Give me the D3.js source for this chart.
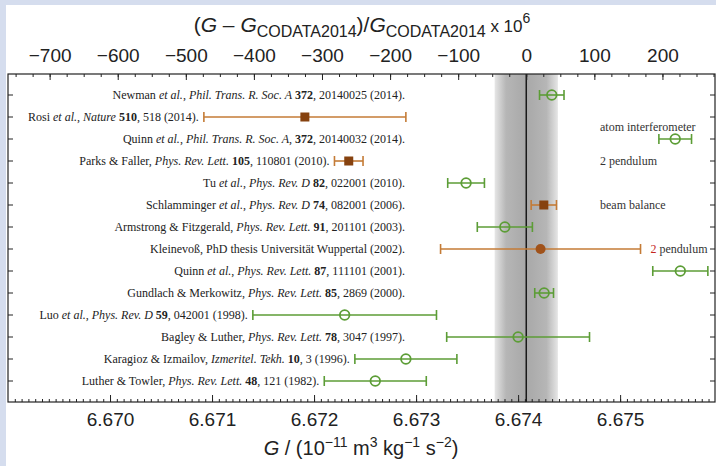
<!DOCTYPE html>
<html>
<head>
<meta charset="utf-8">
<script src="https://cdn.jsdelivr.net/npm/d3@7"></script>
<style>
  body { margin: 0; background: #d5ddee; }
  svg { display: block; }
</style>
</head>
<body>
<svg id="chart" width="716" height="466"></svg>
<script>

// CODATA 2014 recommended value and its standard uncertainty
var G_CODATA = 6.67408;
var G_CODATA_UNC = 0.00031;

// References, top to bottom (*italic*, **bold**)
var refs = [
    "Newman *et al.*, *Phil. Trans. R. Soc. A* **372**, 20140025 (2014).",
    "Rosi *et al.*, *Nature* **510**, 518 (2014).",
    "Quinn *et al.*, *Phil. Trans. R. Soc. A*, **372**, 20140032 (2014).",
    "Parks & Faller, *Phys. Rev. Lett.* **105**, 110801 (2010).",
    "Tu *et al.*, *Phys. Rev. D* **82**, 022001 (2010).",
    "Schlamminger *et al.*, *Phys. Rev. D* **74**, 082001 (2006).",
    "Armstrong & Fitzgerald, *Phys. Rev. Lett.* **91**, 201101 (2003).",
    "Kleinevoß, PhD thesis Universität Wuppertal (2002).",
    "Quinn *et al.*, *Phys. Rev. Lett.* **87**, 111101 (2001).",
    "Gundlach & Merkowitz, *Phys. Rev. Lett.* **85**, 2869 (2000).",
    "Luo *et al.*, *Phys. Rev. D* **59**, 042001 (1998).",
    "Bagley & Luther, *Phys. Rev. Lett.* **78**, 3047 (1997).",
    "Karagioz & Izmailov, *Izmeritel. Tekh.* **10**, 3 (1996).",
    "Luther & Towler, *Phys. Rev. Lett.* **48**, 121 (1982)."
];

// measured G (10^-11 m^3 kg^-1 s^-2) and its uncertainty
var gValues = [6.67433, 6.67191, 6.67554, 6.67234, 6.67349, 6.674252, 6.67387,
               6.67422, 6.67559, 6.674255, 6.6723, 6.6740, 6.6729, 6.6726];
var gErrors = [0.00012, 0.00099, 0.00016, 0.00014, 0.00018, 0.000124, 0.00027,
               0.00098, 0.00027, 0.000092, 0.0009, 0.0007, 0.0005, 0.0005];

// marker type per row
var markers = ["open", "square", "open", "square", "open", "square", "open",
               "dot", "open", "open", "open", "open", "open", "open"];

// method notes on the right ({...} = red)
var notes = ["", "atom interferometer", "", "2 pendulum", "", "beam balance", "",
             "{2} pendulum", "", "", "", "", "", ""];

// tick labels
var gTicks = [6.670, 6.671, 6.672, 6.673, 6.674, 6.675];
var ppmTicks = [-700, -600, -500, -400, -300, -200, -100, 0, 100, 200];


var svgWidth = 716;
var svgHeight = 466;
var frame = { left: 8, right: 715, top: 74, bottom: 402 };

var green = "#5c9d36";
var brownBar = "#c47b36";
var brownMark = "#86420f";
var serif = "'Liberation Serif', 'Times New Roman', serif";
var sans = "'Liberation Sans', Arial, sans-serif";

var svg = d3.select("#chart");

// white page on the blue background
svg.append("rect")
    .attr("x", 6).attr("y", 5)
    .attr("width", svgWidth - 6).attr("height", svgHeight - 5)
    .attr("fill", "#ffffff");

// scales
var x = d3.scaleLinear()
    .domain([6.669, 6.67593])
    .range([frame.left, frame.right]);

var xPpm = d3.scaleLinear()
    .domain(x.domain().map(function (g) { return (g / G_CODATA - 1) * 1e6; }))
    .range(x.range());

var y = d3.scaleBand()
    .domain(d3.range(refs.length))
    .range([84, 392]);

function rowY(i) { return y(i) + y.bandwidth() / 2; }

// gray band for the CODATA uncertainty
var grad = svg.append("defs").append("linearGradient")
    .attr("id", "band").attr("x1", "0").attr("x2", "1").attr("y1", "0").attr("y2", "0");
[[0, "#e6e6e6"], [0.18, "#b6b6b6"], [0.5, "#a8a8a8"], [0.82, "#b6b6b6"], [1, "#e6e6e6"]]
    .forEach(function (s) {
        grad.append("stop").attr("offset", s[0]).attr("stop-color", s[1]);
    });

svg.append("rect")
    .attr("x", x(G_CODATA - G_CODATA_UNC))
    .attr("y", frame.top)
    .attr("width", x(G_CODATA + G_CODATA_UNC) - x(G_CODATA - G_CODATA_UNC))
    .attr("height", frame.bottom - frame.top)
    .attr("fill", "url(#band)");

svg.append("line")
    .attr("x1", x(G_CODATA)).attr("x2", x(G_CODATA))
    .attr("y1", frame.top).attr("y2", frame.bottom)
    .attr("stroke", "#1a1a1a").attr("stroke-width", 1.5);

// rows
var rows = refs.map(function (r, i) {
    return { i: i, ref: r, g: gValues[i], e: gErrors[i], kind: markers[i], note: notes[i] };
});

function colorOf(d) { return d.kind === "open" ? green : brownBar; }

var bars = svg.selectAll("g.row")
    .data(rows)
    .enter().append("g")
    .attr("class", "row");

bars.append("line")
    .attr("x1", function (d) { return x(d.g - d.e); })
    .attr("x2", function (d) { return x(d.g + d.e); })
    .attr("y1", function (d) { return rowY(d.i); })
    .attr("y2", function (d) { return rowY(d.i); })
    .attr("stroke", colorOf).attr("stroke-width", 1.6);

[-1, 1].forEach(function (s) {
    bars.append("line")
        .attr("x1", function (d) { return x(d.g + s * d.e); })
        .attr("x2", function (d) { return x(d.g + s * d.e); })
        .attr("y1", function (d) { return rowY(d.i) - 5; })
        .attr("y2", function (d) { return rowY(d.i) + 5; })
        .attr("stroke", colorOf).attr("stroke-width", 1.6);
});

bars.filter(function (d) { return d.kind === "open"; })
    .append("circle")
    .attr("cx", function (d) { return x(d.g); })
    .attr("cy", function (d) { return rowY(d.i); })
    .attr("r", 4.8)
    .attr("fill", "none")
    .attr("stroke", green).attr("stroke-width", 1.8);

bars.filter(function (d) { return d.kind === "square"; })
    .append("rect")
    .attr("x", function (d) { return x(d.g) - 4.5; })
    .attr("y", function (d) { return rowY(d.i) - 4.5; })
    .attr("width", 9).attr("height", 9)
    .attr("fill", brownMark);

bars.filter(function (d) { return d.kind === "dot"; })
    .append("circle")
    .attr("cx", function (d) { return x(d.g); })
    .attr("cy", function (d) { return rowY(d.i); })
    .attr("r", 5)
    .attr("fill", "#a0521a");

// rich text helper: *italic*, **bold**, {red}
function richText(sel, str) {
    str.split(/(\*\*[^*]+\*\*|\*[^*]+\*|\{[^}]+\})/).forEach(function (part) {
        if (!part) return;
        var t = sel.append("tspan");
        if (part.indexOf("**") === 0) {
            t.text(part.slice(2, -2)).attr("font-weight", "bold");
        } else if (part[0] === "*") {
            t.text(part.slice(1, -1)).attr("font-style", "italic");
        } else if (part[0] === "{") {
            t.text(part.slice(1, -1)).attr("fill", "#c4261e");
        } else {
            t.text(part);
        }
    });
}

// reference labels, right aligned before the bar
bars.append("text")
    .attr("x", function (d) { return Math.min(405, x(d.g - d.e) - 5); })
    .attr("y", function (d) { return rowY(d.i); })
    .attr("dy", "0.35em")
    .attr("text-anchor", "end")
    .attr("font-family", serif)
    .attr("font-size", 12)
    .attr("fill", "#222")
    .each(function (d) { richText(d3.select(this), d.ref); });

// notes on the right
bars.filter(function (d) { return d.note; })
    .append("text")
    .attr("x", function (d) { return Math.max(600, x(d.g + d.e) + 10); })
    .attr("y", function (d) { return rowY(d.i) + (d.i === 1 ? 10 : 0); })
    .attr("dy", "0.35em")
    .attr("font-family", serif)
    .attr("font-size", 12)
    .attr("fill", "#333")
    .each(function (d) { richText(d3.select(this), d.note); });

// frame
svg.append("rect")
    .attr("x", frame.left).attr("y", frame.top)
    .attr("width", frame.right - frame.left)
    .attr("height", frame.bottom - frame.top)
    .attr("fill", "none")
    .attr("stroke", "#222").attr("stroke-width", 1.2);

// top axis (relative deviation in ppm)
function minus(d) { return d < 0 ? "\u2212" + Math.abs(d) : d; }

svg.append("g")
    .attr("transform", "translate(0," + frame.top + ")")
    .call(d3.axisTop(xPpm).tickValues(ppmTicks).tickFormat(minus)
        .tickSizeInner(-6).tickSizeOuter(0).tickPadding(12));

var ppmDom = xPpm.domain();
svg.append("g")
    .attr("transform", "translate(0," + frame.top + ")")
    .call(d3.axisTop(xPpm)
        .tickValues(d3.range(-775, 300, 25).filter(function (v) { return v > ppmDom[0] && v < ppmDom[1]; }))
        .tickFormat("").tickSizeInner(-3).tickSizeOuter(0));

// bottom axis (G)
svg.append("g")
    .attr("transform", "translate(0," + frame.bottom + ")")
    .call(d3.axisBottom(x).tickValues(gTicks).tickFormat(d3.format(".3f"))
        .tickSizeInner(-7).tickSizeOuter(0).tickPadding(11));

svg.append("g")
    .attr("transform", "translate(0," + frame.bottom + ")")
    .call(d3.axisBottom(x)
        .tickValues(d3.range(1, 104).map(function (k) { return 6.669 + k * 0.001 / 15; })
            .filter(function (v) { return v < x.domain()[1]; }))
        .tickFormat("").tickSizeInner(-3).tickSizeOuter(0));

// left / right row ticks (row boundaries)
svg.append("g")
    .attr("transform", "translate(" + frame.left + ",0)")
    .call(d3.axisLeft(y).tickValues(d3.range(refs.length)).tickFormat("")
        .tickSizeInner(-5).tickSizeOuter(0).offset(11));
svg.append("g")
    .attr("transform", "translate(" + frame.right + ",0)")
    .call(d3.axisRight(y).tickValues(d3.range(refs.length)).tickFormat("")
        .tickSizeInner(-5).tickSizeOuter(0).offset(11));

svg.selectAll(".domain").remove();
svg.selectAll(".tick line").attr("stroke", "#222").attr("stroke-width", 1);
svg.selectAll(".tick text")
    .attr("font-family", sans)
    .attr("font-size", 19)
    .attr("fill", "#222");

// axis titles
var topTitle = svg.append("text")
    .attr("x", 362).attr("y", 32)
    .attr("text-anchor", "middle")
    .attr("font-family", sans).attr("font-size", 21).attr("fill", "#222");
topTitle.append("tspan").text("(");
topTitle.append("tspan").text("G").attr("font-style", "italic");
topTitle.append("tspan").text(" \u2013 ");
topTitle.append("tspan").text("G").attr("font-style", "italic");
topTitle.append("tspan").text("CODATA2014").attr("font-size", 16).attr("dy", 5);
topTitle.append("tspan").text(")/").attr("dy", -5);
topTitle.append("tspan").text("G").attr("font-style", "italic");
topTitle.append("tspan").text("CODATA2014").attr("font-size", 16).attr("dy", 5);
topTitle.append("tspan").text(" x 10").attr("font-size", 17).attr("dy", -5);
topTitle.append("tspan").text("6").attr("font-size", 14).attr("dy", -9);

var botTitle = svg.append("text")
    .attr("x", 361).attr("y", 455)
    .attr("text-anchor", "middle")
    .attr("font-family", sans).attr("font-size", 20).attr("fill", "#222");
botTitle.append("tspan").text("G").attr("font-style", "italic");
botTitle.append("tspan").text(" / (10");
botTitle.append("tspan").text("\u221211").attr("font-size", 14).attr("dy", -8);
botTitle.append("tspan").text(" m").attr("dy", 8);
botTitle.append("tspan").text("3").attr("font-size", 14).attr("dy", -8);
botTitle.append("tspan").text(" kg").attr("dy", 8);
botTitle.append("tspan").text("\u22121").attr("font-size", 14).attr("dy", -8);
botTitle.append("tspan").text(" s").attr("dy", 8);
botTitle.append("tspan").text("\u22122").attr("font-size", 14).attr("dy", -8);
botTitle.append("tspan").text(")").attr("dy", 8);

</script>
</body>
</html>
